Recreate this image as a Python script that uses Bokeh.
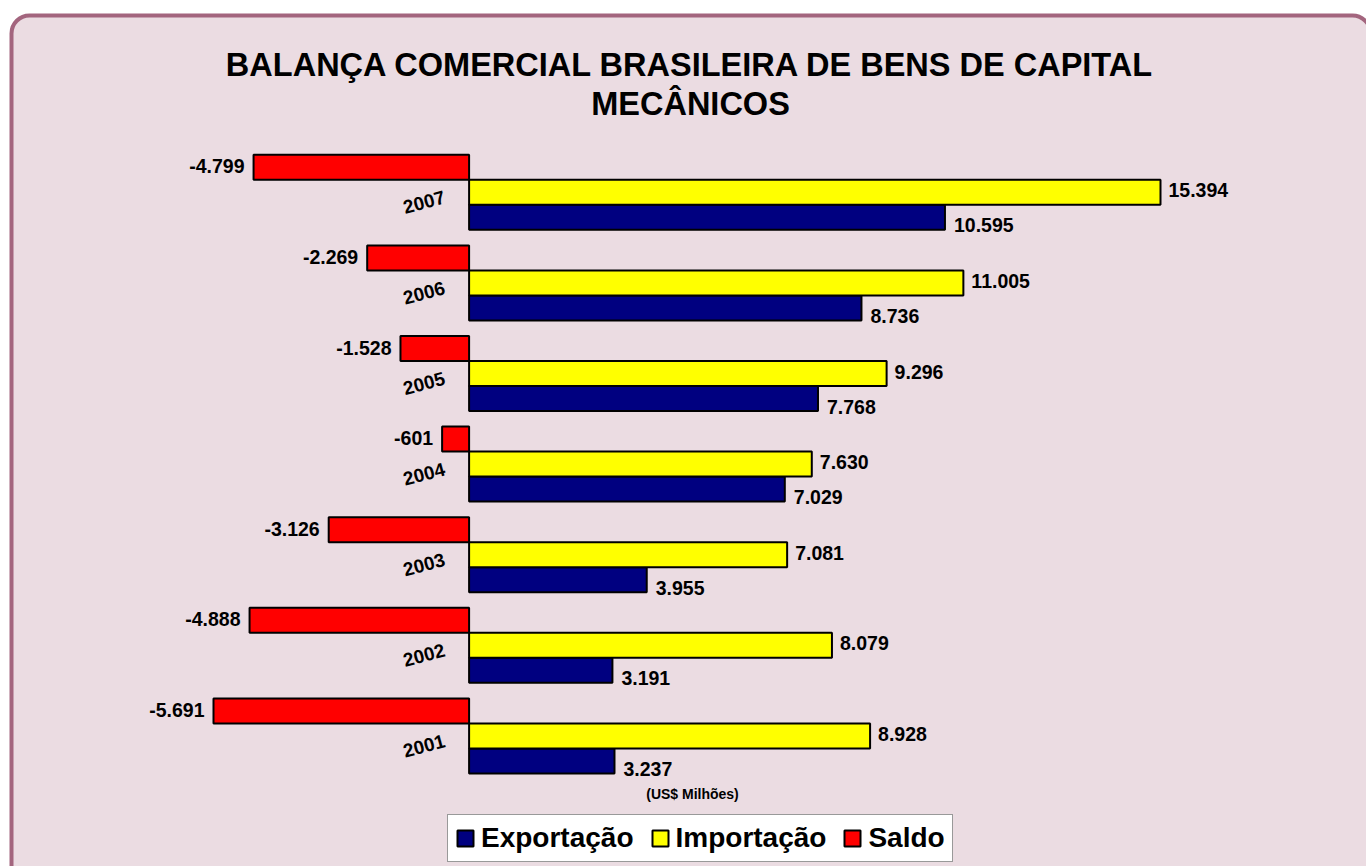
from bokeh.plotting import figure
from bokeh.models import ColumnDataSource, Range1d, Label, Legend, LegendItem
from bokeh.transform import dodge
from bokeh.core.properties import value
from bokeh.embed import file_html
from bokeh.resources import INLINE

# ---- data ----
years = [2001, 2002, 2003, 2004, 2005, 2006, 2007]
exportacao = [3237, 3191, 3955, 7029, 7768, 8736, 10595]
importacao = [8928, 8079, 7081, 7630, 9296, 11005, 15394]
saldo = [-5691, -4888, -3126, -601, -1528, -2269, -4799]
year_labels = [str(y) for y in years]

title_lines = ["BALANÇA COMERCIAL BRASILEIRA DE BENS DE CAPITAL", "MECÂNICOS"]
unit_note = "(US$ Milhões)"
series_names = ["Exportação", "Importação", "Saldo"]
series_colors = ["#000080", "#FFFF00", "#FF0000"]


def fmt(v):
    return f"{v:,}".replace(",", ".")


src = ColumnDataSource(dict(
    year=years,
    exp=exportacao, imp=importacao, sal=saldo,
    exp_t=[fmt(v) for v in exportacao],
    imp_t=[fmt(v) for v in importacao],
    sal_t=[fmt(v) for v in saldo],
    ylab=year_labels,
))

W, H = 1366, 866
zero_px = 468.6          # pixel of x=0
u = 22.265               # data units per pixel (x)
px_per_year = 90.6
x_start = -zero_px * u
x_end = (W - zero_px) * u
y_end = 2007 + 191.8 / px_per_year
y_start = y_end - H / px_per_year
bar_h = 25 / px_per_year

p = figure(width=W, height=H, output_backend="svg", toolbar_location=None,
           x_range=Range1d(x_start, x_end), y_range=Range1d(y_start, y_end),
           min_border=0, min_border_left=0, min_border_right=0,
           min_border_top=0, min_border_bottom=0)
p.axis.visible = False
p.grid.visible = False
p.outline_line_color = None
p.background_fill_color = "white"
p.border_fill_color = "white"


def X(px):
    return x_start + px * u


def Y(py):
    return y_end - py / px_per_year


# rounded panel frame (decoration)
p.quad(left=[X(11)], right=[X(1370)], top=[Y(15)], bottom=[Y(890)],
       fill_color="#EBDCE2", line_color="#A3657E", line_width=4,
       border_radius=18)

FONT = value("Liberation Sans")

r_exp = p.hbar(y=dodge("year", -bar_h, range=p.y_range), left=0, right="exp",
               height=bar_h, source=src, fill_color=series_colors[0],
               line_color="black", line_width=2)
r_imp = p.hbar(y=dodge("year", 0, range=p.y_range), left=0, right="imp",
               height=bar_h, source=src, fill_color=series_colors[1],
               line_color="black", line_width=2)
r_sal = p.hbar(y=dodge("year", bar_h, range=p.y_range), left=0, right="sal",
               height=bar_h, source=src, fill_color=series_colors[2],
               line_color="black", line_width=2)

lab_kw = dict(source=src, text_font=FONT, text_font_style="bold",
              text_font_size="19.5px", text_color="black", text_baseline="middle")
p.text(x="sal", y=dodge("year", bar_h, range=p.y_range), text="sal_t",
       x_offset=-9, y_offset=-1, text_align="right", **lab_kw)
p.text(x="imp", y=dodge("year", 0, range=p.y_range), text="imp_t",
       x_offset=8, y_offset=-2, text_align="left", **lab_kw)
p.text(x="exp", y=dodge("year", -bar_h, range=p.y_range), text="exp_t",
       x_offset=9, y_offset=8, text_align="left", **lab_kw)

# year category labels (rotated)
p.text(x=0, y="year", text="ylab", source=src, x_offset=-45, y_offset=10,
       angle=15, angle_units="deg", text_align="center", text_baseline="middle",
       text_font=FONT, text_font_style="bold", text_font_size="19px",
       text_color="black")

# titles
for txt, ty in zip(title_lines, [64, 103]):
    p.add_layout(Label(x=690, y=H - ty, x_units="screen", y_units="screen",
                       text=txt, text_align="center", text_baseline="middle",
                       text_font="Liberation Sans", text_font_style="bold",
                       text_font_size="32.5px", text_color="black"))
p.add_layout(Label(x=692, y=H - 793, x_units="screen", y_units="screen",
                   text=unit_note, text_align="center", text_baseline="middle",
                   text_font="Liberation Sans", text_font_style="bold",
                   text_font_size="14px", text_color="black"))

legend = Legend(items=[LegendItem(label=series_names[0], renderers=[r_exp]),
                       LegendItem(label=series_names[1], renderers=[r_imp]),
                       LegendItem(label=series_names[2], renderers=[r_sal])],
                orientation="horizontal", location=(447, 4),
                background_fill_color="white", background_fill_alpha=1,
                border_line_color="#333333", border_line_width=1.5,
                label_text_font="Liberation Sans", label_text_font_style="bold",
                label_text_font_size="28px", label_text_color="black",
                glyph_width=20, glyph_height=20, label_standoff=6,
                spacing=16, padding=7, margin=0)
p.add_layout(legend, "center")

open("out.html", "w").write(file_html(p, INLINE))
